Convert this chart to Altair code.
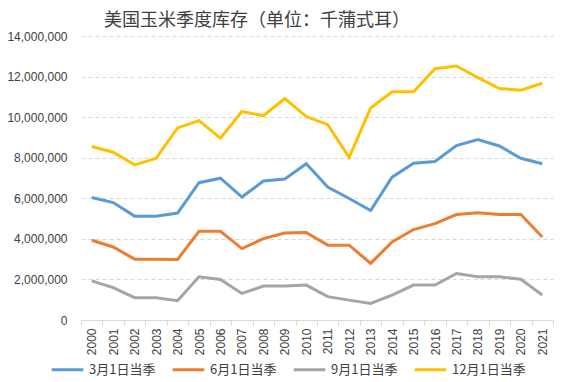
import altair as alt
import pandas as pd

years = [str(y) for y in range(2000, 2022)]
series_names = ["3月1日当季", "6月1日当季", "9月1日当季", "12月1日当季"]
mar1 = [6040000, 5790000, 5120000, 5120000, 5270000, 6770000, 6990000, 6060000, 6850000, 6950000,
        7700000, 6550000, 5990000, 5400000, 7040000, 7730000, 7810000, 8600000, 8900000, 8580000,
        7970000, 7700000]
jun1 = [3930000, 3600000, 3000000, 3000000, 2980000, 4370000, 4370000, 3520000, 4010000, 4290000,
        4310000, 3690000, 3690000, 2790000, 3850000, 4460000, 4750000, 5200000, 5290000, 5200000,
        5200000, 4090000]
sep1 = [1930000, 1600000, 1100000, 1100000, 950000, 2130000, 2000000, 1310000, 1670000, 1670000,
        1720000, 1150000, 980000, 820000, 1230000, 1720000, 1720000, 2290000, 2130000, 2130000,
        2010000, 1230000]
dec1 = [8550000, 8270000, 7650000, 7970000, 9470000, 9830000, 8960000, 10280000, 10070000, 10920000,
        10030000, 9630000, 8020000, 10450000, 11250000, 11250000, 12390000, 12520000, 11950000, 11410000,
        11330000, 11670000]
colors = ["#5B9BD5", "#ED7D31", "#A5A5A5", "#FFC000"]

rows = []
for name, vals in zip(series_names, [mar1, jun1, sep1, dec1]):
    for y, v in zip(years, vals):
        rows.append({"year": y, "series": name, "value": v})
df = pd.DataFrame(rows)

font = "Noto Sans CJK SC"

chart = alt.Chart(df).mark_line(strokeWidth=3).encode(
    x=alt.X("year:O", bandPosition=0.5,
            scale=alt.Scale(type="band", paddingInner=0, paddingOuter=0, domain=years),
            axis=alt.Axis(title=None, labelAngle=270, labelAlign="right", labelBaseline="middle",
                          tickBand="extent", grid=False, domainColor="#D9D9D9", tickColor="#D9D9D9",
                          tickSize=5, labelPadding=3, labelFontSize=12, labelColor="#404040",
                          labelFont="Liberation Sans")),
    y=alt.Y("value:Q", scale=alt.Scale(domain=[0, 14000000], nice=False),
            axis=alt.Axis(title=None, format=",.0f", values=list(range(0, 14000001, 2000000)),
                          domain=False, ticks=False, grid=True, gridColor="#D9D9D9",
                          gridDash=[4, 3], labelPadding=14, labelFontSize=12,
                          labelColor="#404040", labelFont="Liberation Sans")),
    color=alt.Color("series:N", sort=series_names,
                    scale=alt.Scale(domain=series_names, range=colors),
                    legend=alt.Legend(title=None, orient="none", direction="horizontal",
                                      legendX=-31, legendY=316,
                                      symbolType="stroke", symbolStrokeWidth=3, symbolSize=1000,
                                      labelFontSize=13, labelFont=font, labelColor="#404040",
                                      labelBaseline="middle",
                                      columnPadding=10, labelOffset=4)),
).properties(
    width=472, height=284,
    title=alt.TitleParams("美国玉米季度库存（单位：千蒲式耳）", font=font, fontSize=18,
                          fontWeight="normal", color="#404040", anchor="middle", dx=-60, offset=0),
    padding={"left": 73, "top": 28, "right": 12, "bottom": 62},
    autosize=alt.AutoSizeParams(type="none"),
).configure_view(stroke=None)

chart.save("out.html", embed_options={"renderer": "svg", "actions": False})
